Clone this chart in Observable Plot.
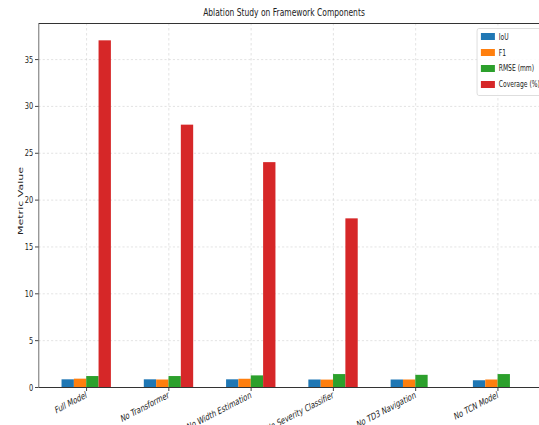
<!DOCTYPE html>
<html><head><meta charset="utf-8">
<script src="https://cdn.jsdelivr.net/npm/d3@7"></script>
<script src="https://cdn.jsdelivr.net/npm/@observablehq/plot@0.6"></script>
<style>
html,body{margin:0;padding:0;overflow:hidden;background:#fff;width:539px;height:425px;}
#wrap{position:absolute;left:0;top:0;width:794px;height:425px;transform:scaleX(0.7);transform-origin:0 0;font-family:"DejaVu Sans",sans-serif;color:#222;}
#chart{position:absolute;left:0;top:0;}
#title{position:absolute;top:5.5px;left:405.7px;transform:translateX(-50%);font-size:10.8px;white-space:nowrap;}
#ylabel{position:absolute;left:29.6px;top:201px;transform:translate(-50%,-50%) rotate(-90deg);font-size:11px;white-space:nowrap;}
#legend{position:absolute;left:681px;top:28px;background:rgba(255,255,255,0.85);border:1px solid #d8d8d8;border-radius:3px;padding:0 10px 3px 5px;font-size:8.6px;}
.row{display:flex;align-items:center;height:15.8px;white-space:nowrap;}
.sw{width:20px;height:7px;margin-right:5.5px;}
</style></head><body>
<div id="wrap"><div id="chart"></div><div id="title">Ablation Study on Framework Components</div><div id="ylabel">Metric Value</div><div id="legend"></div></div>
<script>
const categories = ["Full Model", "No Transformer", "No Width Estimation", "No Severity Classifier", "No TD3 Navigation", "No TCN Model"];
const metrics = ["IoU", "F1", "RMSE (mm)", "Coverage (%)"];
const colors = ["#1f77b4", "#ff7f0e", "#2ca02c", "#d62728"];
const iou = [0.82, 0.82, 0.82, 0.80, 0.80, 0.72];
const f1 = [0.89, 0.80, 0.88, 0.79, 0.80, 0.80];
const rmse = [1.17, 1.17, 1.24, 1.38, 1.30, 1.38];
const coverage = [37, 28, 24, 18, 0, 0];
const yTicks = [0, 5, 10, 15, 20, 25, 30, 35];

const series = [iou, f1, rmse, coverage];
const data = [];
categories.forEach((c, i) => metrics.forEach((m, k) => data.push({i, cat: c, metric: m, k, value: series[k][i]})));
const barW = 0.15;
const catIdx = categories.map((_, i) => i);

const chart = Plot.plot({
  width: 794, height: 425,
  marginLeft: 55, marginRight: 15, marginTop: 23, marginBottom: 38,
  style: {fontFamily: "DejaVu Sans", fontSize: "9.5px", color: "#222", background: "transparent"},
  x: {domain: [-0.58, 5.58], ticks: catIdx, tickFormat: i => categories[i], tickRotate: -20, label: null, tickSize: 4, tickPadding: 3},
  y: {domain: [0, 38.85], ticks: yTicks, tickSize: 5, tickPadding: 3, label: null},
  color: {domain: metrics, range: colors},
  marks: [
    Plot.ruleY(yTicks, {stroke: "#c8c8c8", strokeDasharray: "3,3", strokeOpacity: 0.6}),
    Plot.ruleX(catIdx, {stroke: "#c8c8c8", strokeDasharray: "2.5,2.5", strokeOpacity: 0.6}),
    Plot.rectY(data, {x1: d => d.i + (d.k - 2) * barW, x2: d => d.i + (d.k - 1) * barW, y: "value", fill: "metric"}),
    Plot.frame({stroke: "#333"})
  ]
});
document.getElementById("chart").appendChild(chart);

const lg = document.getElementById("legend");
metrics.forEach((m, k) => {
  const r = document.createElement("div"); r.className = "row";
  const sw = document.createElement("div"); sw.className = "sw"; sw.style.background = colors[k];
  const t = document.createElement("span"); t.textContent = m;
  r.appendChild(sw); r.appendChild(t); lg.appendChild(r);
});
</script>
</body></html>
